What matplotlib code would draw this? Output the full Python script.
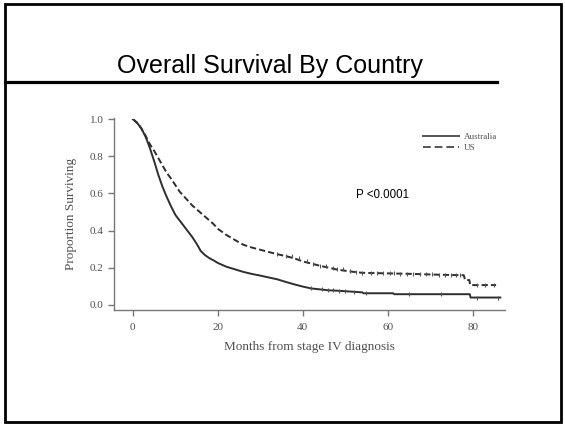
import matplotlib
matplotlib.use("Agg")
import matplotlib.pyplot as plt
from matplotlib.patches import Rectangle
from matplotlib.lines import Line2D

# ---------------- data ----------------
title = "Overall Survival By Country"
series_names = ["Australia", "US"]

aus_months = [0, 1, 2, 3, 4, 5, 6, 7, 8, 9, 10, 11, 12, 13, 14, 15, 16, 17, 18, 19,
              20, 22, 24, 26, 28, 30, 32, 34, 36, 38, 40, 42, 44, 46, 48, 50, 52,
              54, 54.3, 61.3, 61.5, 79.3, 79.5, 86.5]
aus_surv = [1.0, 0.98, 0.95, 0.905, 0.845, 0.775, 0.70, 0.635, 0.58, 0.53, 0.485,
            0.455, 0.425, 0.395, 0.365, 0.33, 0.29, 0.268, 0.252, 0.24,
            0.226, 0.206, 0.192, 0.178, 0.167, 0.158, 0.148, 0.138, 0.124, 0.111,
            0.099, 0.089, 0.084, 0.079, 0.077, 0.074, 0.071,
            0.068, 0.063, 0.063, 0.058, 0.058, 0.040, 0.040]
aus_censor = [42, 44.5, 46, 47, 48.5, 50, 52, 55, 65, 72.5, 81, 86]

us_months = [0, 1, 2, 3, 4, 5, 6, 7, 8, 9, 10, 11, 12, 13, 14, 15, 16, 17, 18, 19,
             20, 22, 24, 26, 28, 30, 32, 34, 36, 38, 40, 42, 44, 46, 48, 50, 52,
             54, 58, 62, 66, 71.5, 77.9, 78.2, 79.2, 79.4, 85.5]
us_surv = [1.0, 0.98, 0.95, 0.91, 0.865, 0.83, 0.79, 0.75, 0.71, 0.68, 0.645,
           0.61, 0.585, 0.56, 0.535, 0.515, 0.495, 0.475, 0.455, 0.435,
           0.41, 0.377, 0.35, 0.324, 0.309, 0.297, 0.285, 0.273, 0.263, 0.251,
           0.234, 0.223, 0.211, 0.201, 0.191, 0.184, 0.178,
           0.173, 0.171, 0.169, 0.167, 0.163, 0.160, 0.134, 0.134, 0.107, 0.107]
us_censor = [34, 36, 37.5, 39, 41, 42.5, 44, 45.5, 47, 48, 49.5, 51, 52.5, 54,
             56, 57.5, 59, 60.5, 61.5, 63, 64.5, 66, 67.5, 69, 70.5, 72, 73.5,
             75, 76, 77, 81, 83, 85]

p_text = "P <0.0001"
x_label = "Months from stage IV diagnosis"
y_label = "Proportion Surviving"
x_ticks = [0, 20, 40, 60, 80]
y_ticks = [0.0, 0.2, 0.4, 0.6, 0.8, 1.0]

# ---------------- figure ----------------
W, H = 565, 424
fig = plt.figure(figsize=(W / 100, H / 100), dpi=100)
fig.patch.set_facecolor("white")

# slide frame
fig.add_artist(Rectangle((5 / W, 2.5 / H), (561 - 5) / W, (420.5 - 2.5) / H,
                         transform=fig.transFigure, fill=False,
                         edgecolor="black", linewidth=2.0))
# title rule
fig.add_artist(Line2D([5 / W, 497 / W], [1 - 81.5 / H, 1 - 81.5 / H],
                      transform=fig.transFigure, color="black", linewidth=2.3))
fig.text(270 / W, 1 - 66 / H, title, ha="center", va="center",
         fontsize=18, family=["Liberation Sans Narrow", "Liberation Sans", "DejaVu Sans"],
         color="black")

ax_left, ax_right, ax_top, ax_bottom = 113.5, 505, 118.5, 310
ax = fig.add_axes([ax_left / W, 1 - ax_bottom / H, (ax_right - ax_left) / W,
                   (ax_bottom - ax_top) / H])

line_color = "#2e2e2e"
ax.plot(aus_months, aus_surv, color=line_color,
        linewidth=1.4, label=series_names[0])
ax.plot(us_months, us_surv, color=line_color,
        linewidth=1.4, linestyle=(0, (3.2, 1.6)), label=series_names[1])


def step_value(months, surv, t):
    v = surv[0]
    for m, s in zip(months, surv):
        if m <= t:
            v = s
        else:
            break
    return v


ax.plot(aus_censor, [step_value(aus_months, aus_surv, t) for t in aus_censor],
        linestyle="none", marker="|", markersize=3.5, markeredgewidth=0.8,
        color="#555555")
ax.plot(us_censor, [step_value(us_months, us_surv, t) for t in us_censor],
        linestyle="none", marker="|", markersize=3.5, markeredgewidth=0.8,
        color="#555555")

ax.set_xlim(-4.55, 87.6)
ax.set_ylim(-0.027, 1.003)
ax.set_xticks(x_ticks)
ax.set_yticks(y_ticks)
ax.set_yticklabels([f"{v:.1f}" for v in y_ticks])

serif = ["Liberation Serif", "DejaVu Serif"]
grey = "#505050"
for sp in ["top", "right"]:
    ax.spines[sp].set_visible(False)
for sp in ["left", "bottom"]:
    ax.spines[sp].set_color("#777777")
    ax.spines[sp].set_linewidth(1.0)
ax.tick_params(axis="both", colors="#777777", labelcolor=grey, length=4,
               width=1.0, labelsize=8)
for lab in ax.get_xticklabels() + ax.get_yticklabels():
    lab.set_family(serif)
ax.tick_params(axis="x", pad=5)
ax.tick_params(axis="y", pad=3)

ax.set_xlabel(x_label, family=serif, fontsize=9.5, color=grey, labelpad=7)
ax.set_ylabel(y_label, family=serif, fontsize=9.5, color=grey, labelpad=9)

ax.text(0.62, 0.60, p_text, transform=ax.transAxes, ha="left", va="center",
        fontsize=8.3, family=["Liberation Sans", "DejaVu Sans"], color="black")

handles = [Line2D([], [], color="#555555", linewidth=1.4),
           Line2D([], [], color="#555555", linewidth=1.4, linestyle=(0, (4, 2)))]
leg = ax.legend(handles, series_names, loc="upper left",
                bbox_to_anchor=(0.79, 0.925), frameon=False,
                borderpad=0, borderaxespad=0, handlelength=4.0,
                handletextpad=0.5, labelspacing=0.25,
                prop={"family": serif, "size": 6.5})
for t in leg.get_texts():
    t.set_color(grey)

fig.savefig("out.png", dpi=100)
